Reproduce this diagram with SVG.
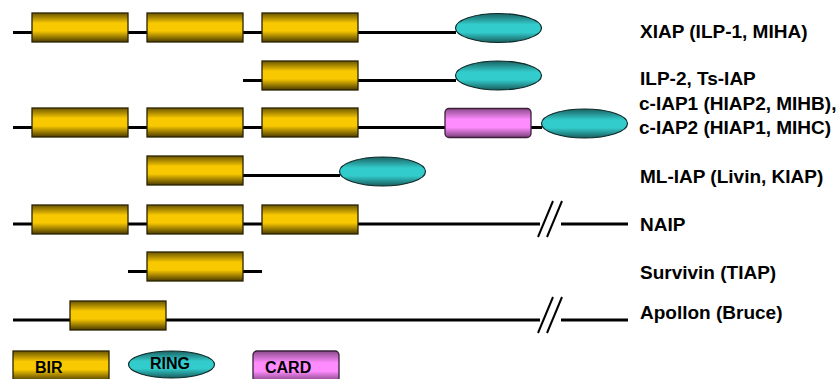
<svg xmlns="http://www.w3.org/2000/svg" width="837" height="379" viewBox="0 0 837 379">
<defs>
<linearGradient id="gBir" x1="0" y1="0" x2="0" y2="1">
<stop offset="0" stop-color="#6a5500"/><stop offset="0.35" stop-color="#f8c800"/><stop offset="0.62" stop-color="#f8c800"/><stop offset="1" stop-color="#4a3a00"/>
</linearGradient>
<linearGradient id="gRing" x1="0" y1="0" x2="0" y2="1">
<stop offset="0" stop-color="#1c6262"/><stop offset="0.38" stop-color="#33cccc"/><stop offset="0.65" stop-color="#33cccc"/><stop offset="1" stop-color="#1a5c5c"/>
</linearGradient>
<linearGradient id="gCard" x1="0" y1="0" x2="0" y2="1">
<stop offset="0" stop-color="#8a4a8a"/><stop offset="0.38" stop-color="#ff8cff"/><stop offset="0.65" stop-color="#ff8cff"/><stop offset="1" stop-color="#7a3f7a"/>
</linearGradient>
</defs>
<style>
.bir{fill:url(#gBir);stroke:#2a2200;stroke-width:1.3}
.ring{fill:url(#gRing);stroke:#0d2a2a;stroke-width:1.2}
.card{fill:url(#gCard);stroke:#3a1f3a;stroke-width:1.3}
.ln{stroke:#000;stroke-width:3;fill:none}
.sl{stroke:#000;stroke-width:2;fill:none}
.lbl{font-family:"Liberation Sans",Arial,sans-serif;font-weight:bold;font-size:19px;fill:#000}
.leg{font-family:"Liberation Sans",Arial,sans-serif;font-weight:bold;font-size:16px;fill:#000}
</style>
<rect width="837" height="379" fill="#fff"/>
<g id="connectors">
<line class="ln" x1="13" y1="32.5" x2="456" y2="32.5"/>
<line class="ln" x1="243" y1="80.5" x2="456" y2="80.5"/>
<line class="ln" x1="13" y1="127.5" x2="445" y2="127.5"/>
<line class="ln" x1="531" y1="127.5" x2="542" y2="127.5"/>
<line class="ln" x1="243" y1="175.5" x2="340" y2="175.5"/>
<line class="ln" x1="13" y1="224" x2="540" y2="224"/>
<line class="ln" x1="561" y1="224" x2="628" y2="224"/>
<line class="sl" x1="538" y1="237" x2="553" y2="201"/>
<line class="sl" x1="547" y1="237" x2="562" y2="201"/>
<line class="ln" x1="128" y1="271.5" x2="262" y2="271.5"/>
<line class="ln" x1="13" y1="320" x2="540" y2="320"/>
<line class="ln" x1="561" y1="320" x2="628" y2="320"/>
<line class="sl" x1="538" y1="333" x2="553" y2="297"/>
<line class="sl" x1="547" y1="333" x2="562" y2="297"/>
</g>
<g id="xiap">
<rect class="bir" x="32" y="13" width="96" height="29"/>
<rect class="bir" x="147" y="13" width="96" height="29"/>
<rect class="bir" x="262" y="13" width="96" height="29"/>
<ellipse class="ring" cx="498.5" cy="28" rx="43" ry="14.5"/>
<text class="lbl" x="640" y="37.5">XIAP (ILP-1, MIHA)</text>
</g>
<g id="ilp2">
<rect class="bir" x="262" y="61" width="96" height="29"/>
<ellipse class="ring" cx="498.5" cy="75.5" rx="43" ry="14.5"/>
<text class="lbl" x="640" y="85">ILP-2, Ts-IAP</text>
</g>
<g id="ciap">
<rect class="bir" x="32" y="108" width="96" height="29"/>
<rect class="bir" x="147" y="108" width="96" height="29"/>
<rect class="bir" x="262" y="108" width="96" height="29"/>
<rect class="card" x="445" y="108.5" width="86" height="29" rx="4"/>
<ellipse class="ring" cx="584.5" cy="123.5" rx="43" ry="14.5"/>
<text class="lbl" x="639" y="110">c-IAP1 (HIAP2, MIHB),</text>
<text class="lbl" x="639" y="134">c-IAP2 (HIAP1, MIHC)</text>
</g>
<g id="mliap">
<rect class="bir" x="147" y="156" width="96" height="29"/>
<ellipse class="ring" cx="382.5" cy="171.5" rx="43" ry="14.5"/>
<text class="lbl" x="640" y="183">ML-IAP (Livin, KIAP)</text>
</g>
<g id="naip">
<rect class="bir" x="32" y="205" width="96" height="29"/>
<rect class="bir" x="147" y="205" width="96" height="29"/>
<rect class="bir" x="262" y="205" width="96" height="29"/>
<text class="lbl" x="640" y="231">NAIP</text>
</g>
<g id="survivin">
<rect class="bir" x="147" y="252" width="96" height="29"/>
<text class="lbl" x="640" y="279">Survivin (TIAP)</text>
</g>
<g id="apollon">
<rect class="bir" x="70" y="301" width="96" height="29"/>
<text class="lbl" x="640" y="319">Apollon (Bruce)</text>
</g>
<g id="legend-bir">
<rect class="bir" x="13" y="351" width="96" height="30"/>
<text class="leg" x="35" y="373">BIR</text>
</g>
<g id="legend-ring">
<ellipse class="ring" cx="171.5" cy="364.5" rx="43" ry="13.5"/>
<text class="leg" x="150" y="369">RING</text>
</g>
<g id="legend-card">
<rect class="card" x="253" y="351" width="86" height="31" rx="4"/>
<text class="leg" x="265" y="373">CARD</text>
</g>
</svg>
